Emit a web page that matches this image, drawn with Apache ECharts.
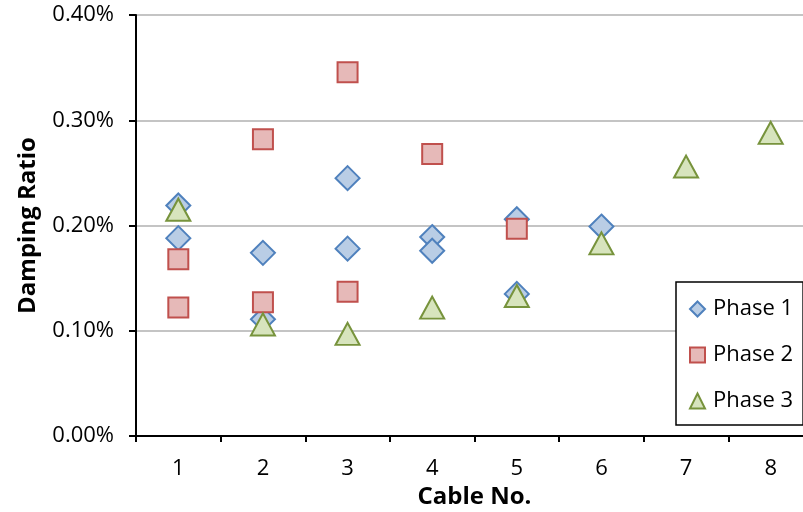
<!DOCTYPE html>
<html>
<head>
<meta charset="utf-8">
<script src="https://cdn.jsdelivr.net/npm/echarts@6/dist/echarts.min.js"></script>
<style>
html,body{margin:0;padding:0;background:#fff;}
#chart{width:803px;height:512px;}
</style>
</head>
<body>
<div id="chart"></div>
<script>
const categories = ['1','2','3','4','5','6','7','8'];
const yTicks = [0, 0.001, 0.002, 0.003, 0.004];
const phase1 = [['1',0.00219],['1',0.00188],['2',0.00174],['2',0.00111],['3',0.00245],['3',0.00178],['4',0.00189],['4',0.00176],['5',0.00206],['5',0.00135],['6',0.00199]];
const phase2 = [['1',0.00168],['1',0.00122],['2',0.00282],['2',0.00127],['3',0.003455],['3',0.00137],['4',0.00268],['5',0.00197]];
const phase3 = [['1',0.00215],['2',0.00106],['3',0.00097],['4',0.00122],['5',0.00133],['6',0.00183],['7',0.00256],['8',0.00288]];

const FONT = 'Open Sans';
const chart = echarts.init(document.getElementById('chart'));
chart.setOption({
  animation: false,
  backgroundColor: '#fff',
  grid: {left: 136, top: 15, width: 677, height: 421, show: true, borderColor: '#000', borderWidth: 2,
         backgroundColor: 'transparent', containLabel: false, outerBoundsMode: 'none'},
  legend: {
    orient: 'vertical', left: 676, top: 282,
    padding: [15, 10, 12, 13],
    itemGap: 22, itemWidth: 15, itemHeight: 15,
    borderColor: '#000', borderWidth: 1.5, backgroundColor: '#fff',
    textStyle: {fontFamily: FONT, fontSize: 22, color: '#000', lineHeight: 24, padding: [0,0,0,3]},
    data: ['Phase 1','Phase 2','Phase 3']
  },
  xAxis: {
    type: 'category', data: categories, boundaryGap: true,
    name: 'Cable No.', nameLocation: 'middle', nameGap: 44,
    nameTextStyle: {fontFamily: FONT, fontSize: 24, fontWeight: 'bold', color: '#000'},
    axisLine: {lineStyle: {color: '#000', width: 2}},
    axisTick: {show: true, length: 6, lineStyle: {color: '#000', width: 2}},
    axisLabel: {fontFamily: FONT, fontSize: 22, color: '#000', margin: 22},
    splitLine: {show: false}
  },
  yAxis: {
    type: 'value', min: yTicks[0], max: yTicks[yTicks.length-1], interval: yTicks[1]-yTicks[0],
    name: 'Damping Ratio', nameLocation: 'middle', nameGap: 96, nameRotate: 90,
    nameTextStyle: {fontFamily: FONT, fontSize: 24, fontWeight: 'bold', color: '#000'},
    axisLine: {show: true, lineStyle: {color: '#000', width: 2}},
    axisTick: {show: true, length: 7, lineStyle: {color: '#000', width: 2}},
    axisLabel: {fontFamily: FONT, fontSize: 22, color: '#000', margin: 22,
      formatter: v => (v*100).toFixed(2) + '%'},
    splitLine: {show: true, lineStyle: {color: '#c4c4c4', width: 2}}
  },
  series: [
    {name: 'Phase 1', type: 'scatter', data: phase1, symbol: 'diamond', symbolSize: 24,
     itemStyle: {color: '#b9cde5', borderColor: '#4f81bd', borderWidth: 2, opacity: 1}},
    {name: 'Phase 2', type: 'scatter', data: phase2, symbol: 'rect', symbolSize: 20,
     itemStyle: {color: '#e6b9b8', borderColor: '#c0504d', borderWidth: 2, opacity: 1}},
    {name: 'Phase 3', type: 'scatter', data: phase3, symbol: 'triangle', symbolSize: [24, 22],
     itemStyle: {color: '#d7e4bd', borderColor: '#77933c', borderWidth: 2, opacity: 1}}
  ]
});
</script>
</body>
</html>
